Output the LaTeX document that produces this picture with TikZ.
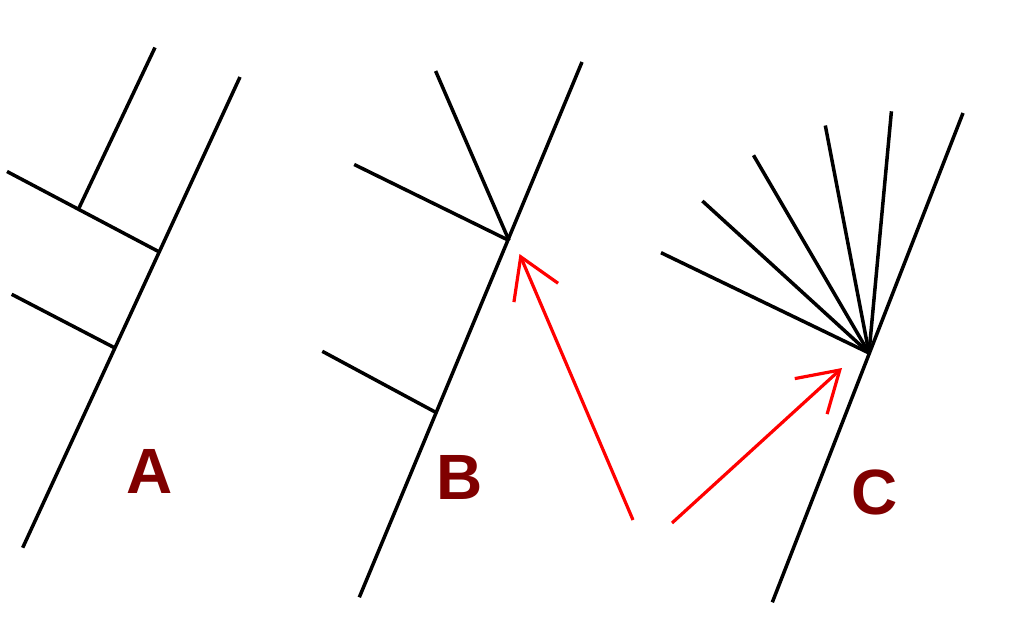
\documentclass[tikz,border=0pt]{standalone}
\usepackage{fontspec}
\setmainfont{Liberation Sans}
\usepackage{xcolor}
\usetikzlibrary{arrows.meta}
\definecolor{stagered}{RGB}{128,0,0}

\begin{document}
\begin{tikzpicture}[x=1pt, y=-1pt,
    stem/.style={black, line width=3.5pt},
    push/.style={red, line width=3.2pt, -{Straight Barb[length=39pt, width=48pt]}},
    letter/.style={text=stagered, inner sep=0pt, font=\fontsize{64}{64}\selectfont\bfseries}]
        \useasboundingbox (0,0) rectangle (1024,640);
        % panel A
        \coordinate (A0) at (22.7,547.7);
        \coordinate (A1) at (240,77);
        \coordinate (Aj1) at (159.4,252);
        \coordinate (Aj2) at (115,348);
        \coordinate (As) at (79,208);
        \draw[stem] (A0) -- (A1);
        \draw[stem] (Aj1) -- (7,171.5);
        \draw[stem] (As) -- (155,47.5);
        \draw[stem] (Aj2) -- (11.7,294.3);
        \node[letter] (labA) at (150,471) {A};
        % panel B
        \coordinate (B0) at (359.3,597.3);
        \coordinate (B1) at (582,62);
        \coordinate (Bj1) at (509,240.5);
        \coordinate (Bj2) at (437,413);
        \draw[stem] (B0) -- (B1);
        \draw[stem] (Bj1) -- (354.2,164.5);
        \draw[stem] (Bj1) -- (435.6,71);
        \draw[stem] (Bj2) -- (322.3,351.3);
        \node[letter] (labB) at (460,477) {B};
        % panel C
        \coordinate (C0) at (772.3,602.3);
        \coordinate (C1) at (963,113);
        \coordinate (Cj) at (869,353);
        \draw[stem] (C0) -- (C1);
        \foreach \tip in {(661,252.7), (702.4,201), (753.5,155.3), (825.3,125.5), (891.4,111.3)}
            \draw[stem] (Cj) -- \tip;
        \node[letter] (labC) at (875,492) {C};
        % red arrows
        \coordinate (pB) at (633,520);
        \coordinate (pC) at (672,523);
        \draw[push] (pB) -- (519.5,254);
        \draw[push] (pC) -- (842,368);
    \end{tikzpicture}
\end{document}
